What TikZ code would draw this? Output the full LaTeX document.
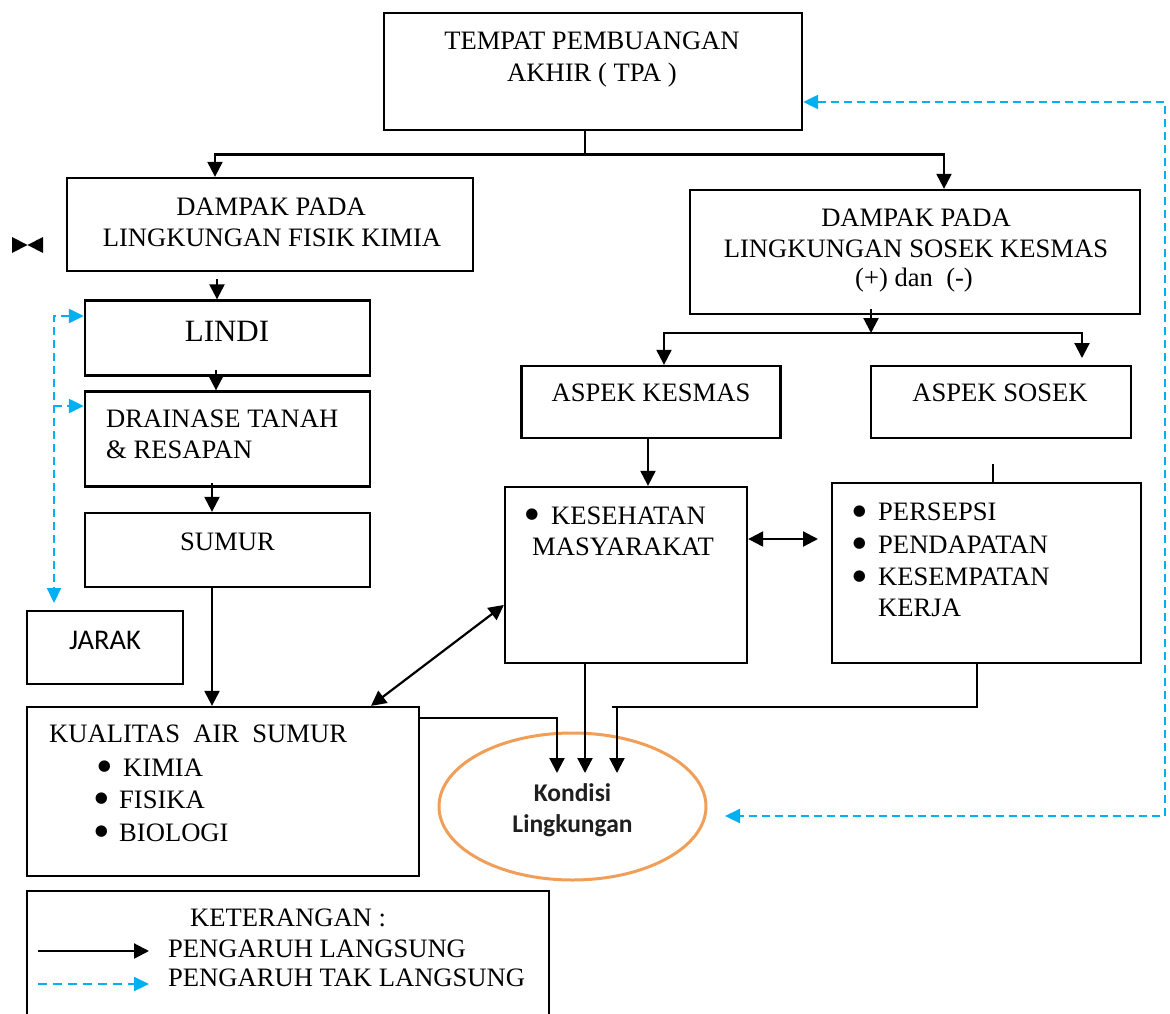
\documentclass[tikz,border=0pt]{standalone}
\usepackage{fontspec}
\setmainfont{Liberation Serif}
\newfontfamily\calib{Carlito}
\newfontfamily\dejavu{DejaVu Sans}
\usetikzlibrary{arrows.meta,shapes.geometric,calc}
\definecolor{dblue}{RGB}{0,176,240}
\definecolor{eorange}{RGB}{240,158,88}
\begin{document}
\begin{tikzpicture}[x=1pt,y=-1pt,
  box/.style={draw,line width=2.3pt,rectangle,inner sep=0pt},
  txt/.style={inner sep=0pt,anchor=base,font=\fontsize{26.6}{32}\selectfont},
  txtl/.style={txt,anchor=base west},
  bul/.style={inner sep=0pt,anchor=center,font=\dejavu\fontsize{15}{15}\selectfont},
  ln/.style={line width=2.2pt},
  arr/.style={ln,-{Triangle[length=15pt,width=15pt]}},
  darr/.style={ln,{Triangle[length=15pt,width=15pt]}-{Triangle[length=15pt,width=15pt]}},
  blu/.style={line width=2.2pt,dblue,dash pattern=on 8pt off 5pt},
  bluarr/.style={blu,-{Triangle[length=15pt,width=14pt]}},
  blu2/.style={blu,{Triangle[length=15pt,width=14pt]}-{Triangle[length=15pt,width=14pt]}},
]
\useasboundingbox (0,0) rectangle (1170,1014);
\clip (0,0) rectangle (1170,1014);
\fill[white] (0,0) rectangle (1170,1014);

% ---------- boxes ----------
\node[box,minimum width=418pt,minimum height=117pt] (tpa) at (593,71.5) {};
\node[box,minimum width=406pt,minimum height=93pt] (fis) at (270,224.5) {};
\node[box,minimum width=285pt,minimum height=75pt] (lindi) at (227.5,338) {};
\node[box,minimum width=285pt,minimum height=95pt] (drain) at (227.5,439) {};
\node[box,minimum width=285pt,minimum height=74pt] (sumur) at (227.5,550) {};
\node[box,minimum width=156pt,minimum height=73pt] (jarak) at (105,647.5) {};
\node[box,minimum width=392pt,minimum height=169pt] (kual) at (223,791.5) {};
\node[box,minimum width=450pt,minimum height=124pt] (sos) at (915,252) {};
\node[box,minimum width=259pt,minimum height=72pt] (akes) at (651,402) {};
\node[box,minimum width=260pt,minimum height=72pt] (asos) at (1001,402) {};
\node[box,minimum width=242pt,minimum height=176pt] (kesh) at (626,575) {};
\node[box,minimum width=309pt,minimum height=180pt] (slist) at (986.5,573) {};
\node[box,minimum width=522pt,minimum height=150pt] (leg) at (288,966) {};
\node[ellipse,draw=eorange,line width=3pt,minimum width=267pt,minimum height=147pt,inner sep=0pt] (kond) at (572.5,806.5) {};

% ---------- texts ----------
\node[txt] (tpa1) at (592,50) {TEMPAT PEMBUANGAN};
\node[txt] (tpa2) at (592,82) {AKHIR ( TPA )};
\node[txt] (fis1) at (271,215) {DAMPAK PADA};
\node[txt] (fis2) at (272,246) {LINGKUNGAN FISIK KIMIA};
\node[txt,font=\fontsize{31}{36}\selectfont] (lindit) at (227,341.5) {LINDI};
\node[txtl] (drain1) at (106,427) {DRAINASE TANAH};
\node[txtl] (drain2) at (106,458) {\& RESAPAN};
\node[txt] (sumurt) at (227.5,550) {SUMUR};
\node[txt,font=\calib\fontsize{28.5}{34}\selectfont] (jarakt) at (105,649) {JARAK};
\node[txtl] (kual0) at (49,742) {KUALITAS~~AIR~~SUMUR};
\node[bul] (kb1) at (104.5,767) {●};
\node[txtl] (kual1) at (123,776) {KIMIA};
\node[bul] (kb2) at (101.5,799) {●};
\node[txtl] (kual2) at (119,808) {FISIKA};
\node[bul] (kb3) at (101.5,832) {●};
\node[txtl] (kual3) at (119,841) {BIOLOGI};
\node[txt] (sos1) at (916,226) {DAMPAK PADA};
\node[txt] (sos2) at (916,257) {LINGKUNGAN SOSEK KESMAS};
\node[txt] (sos3) at (914,286) {(+) dan~~(-)};
\node[txt] (akest) at (651,401) {ASPEK KESMAS};
\node[txt] (asost) at (1000,401) {ASPEK SOSEK};
\node[bul] (hb1) at (532,515) {●};
\node[txtl] (kesh1) at (551,524) {KESEHATAN};
\node[txtl] (kesh2) at (532,555) {MASYARAKAT};
\node[bul] (sb1) at (859.5,512) {●};
\node[txtl] (sl1) at (878,520.5) {PERSEPSI};
\node[bul] (sb2) at (859.5,544) {●};
\node[txtl] (sl2) at (878,553) {PENDAPATAN};
\node[bul] (sb3) at (859.5,577) {●};
\node[txtl] (sl3) at (878,585) {KESEMPATAN};
\node[txtl] (sl4) at (878,616) {KERJA};
\node[txt,font=\calib\bfseries\fontsize{25.5}{30}\selectfont,text=black!88] (kond1) at (572.5,801.5) {Kondisi};
\node[txt,font=\calib\bfseries\fontsize{25.5}{30}\selectfont,text=black!88] (kond2) at (572.5,832.5) {Lingkungan};
\node[txtl] (leg0) at (190,926) {KETERANGAN :};
\node[txtl] (leg1) at (168,957) {PENGARUH LANGSUNG};
\node[txtl] (leg2) at (168,986) {PENGARUH TAK LANGSUNG};

% ---------- bowtie mark ----------
\fill (12,237) -- (27.5,245) -- (12,253) -- cycle;
\fill (43,237) -- (27.5,245) -- (43,253) -- cycle;

% ---------- coordinates ----------
\coordinate (t1) at (585,154.5);
\coordinate (f1) at (217,279);
\coordinate (l1) at (216,370);
\coordinate (d1) at (212,483);
\coordinate (s0) at (871,309);
\coordinate (s1) at (871,333);
\coordinate (s2) at (1082,358);
\coordinate (st) at (993,464);
\coordinate (hx) at (818,539);
\coordinate (e1) at (557,773);
\coordinate (e2) at (585,773);
\coordinate (e3) at (617,773);
\coordinate (h1) at (612,707);
\coordinate (bl1) at (54,316);
\coordinate (bl2) at (54,406);
\coordinate (jt) at (54,603);
\coordinate (br1) at (1165,102);
\coordinate (br2) at (1165,816);
\coordinate (kt) at (725,816);
\coordinate (lg1) at (38,951);
\coordinate (lg2) at (149,951);
\coordinate (lg3) at (38,984);
\coordinate (lg4) at (149,984);

% ---------- black connectors ----------
\draw[ln] (t1 |- tpa.south) -- (t1);
\draw[arr] (t1) -| (215,0 |- fis.north);
\draw[arr] (t1) -| (944,0 |- sos.north);
\draw[arr] (f1) -- (f1 |- lindi.north);
\draw[arr] (l1) -- (l1 |- drain.north);
\draw[arr] (d1) -- (d1 |- sumur.north);
\draw[arr] (d1 |- sumur.south) -- (d1 |- kual.north);
\draw[arr] (s0) -- (s1);
\draw[arr] (s1) -| (664,0 |- akes.north);
\draw[arr] (s1) -| (s2);
\draw[arr] (648,0 |- akes.south) -- (648,0 |- kesh.north);
\draw[ln] (st) -- (st |- slist.north);
\draw[darr] (kesh.east |- hx) -- (hx);
\draw[darr] (371,0 |- kual.north) -- (kesh.west |- 0,605);
\draw[arr] (kual.east |- 0,718) -| (e1);
\draw[arr] (e2 |- kesh.south) -- (e2);
\draw[ln] (977,0 |- slist.south) |- (h1);
\draw[arr] (e3 |- h1) -- (e3);

% ---------- blue dashed connectors ----------
\draw[blu2] (lindi.west |- bl1) -- (bl1) -- (jt);
\draw[bluarr] (bl2) -- (drain.west |- bl2);
\draw[blu2] (tpa.east |- br1) -- (br1) -- (br2) -- (kt);

% ---------- legend arrows ----------
\draw[arr] (lg1) -- (lg2);
\draw[bluarr,dash pattern=on 9pt off 6pt] (lg3) -- (lg4);
\end{tikzpicture}
\end{document}
